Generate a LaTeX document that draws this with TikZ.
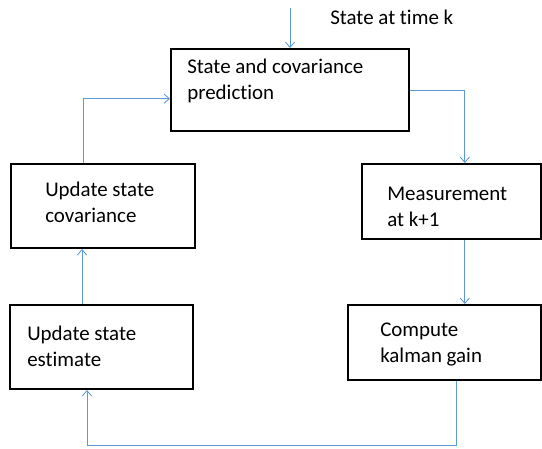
\documentclass[tikz,border=0pt]{standalone}
\usepackage{fontspec}
\setmainfont{Carlito}[Ligatures=NoCommon]
\usetikzlibrary{calc,positioning,arrows.meta}
\definecolor{kfblue}{RGB}{91,155,213}
\tikzset{
 kf box/.style={draw=black,line width=1.5pt,rectangle,inner sep=0pt},
 kf text/.style={font=\fontsize{15.7}{19.5}\selectfont,align=left,
                 anchor=base west,inner sep=0pt},
 kf flow/.style={draw=kfblue,line width=.65pt,
                 -{Straight Barb[length=4pt,width=7pt]}}
}

\begin{document}
\begin{tikzpicture}[x=.75pt,y=-.75pt]
 \useasboundingbox (0,0) rectangle (542,449);
 % boxes
 \node[kf box,minimum width=178.5pt,minimum height=61.5pt] (pred) at (290,90) {};
 \node[kf box,minimum width=134.25pt,minimum height=56.25pt] (meas) at (451.5,201.5) {};
 \node[kf box,minimum width=144.75pt,minimum height=56.25pt] (gain) at (444.5,342.5) {};
 \node[kf box,minimum width=137.25pt,minimum height=63pt] (est) at (101.5,347) {};
 \node[kf box,minimum width=138pt,minimum height=63pt] (cov) at (103,206) {};
 % texts (base = last line)
 \node[kf text] (predtxt) at (187,100) {State and covariance\\prediction};
 \node[kf text] (meastxt) at (387,226) {Measurement\\at k+1};
 \node[kf text] (gaintxt) at (380,362) {Compute\\kalman gain};
 \node[kf text] (esttxt) at (27,366) {Update state\\estimate};
 \node[kf text] (covtxt) at (45,222) {Update state\\covariance};
 \node[kf text] (intxt) at (330,25) {State at time k};
 % flow
 \coordinate (in) at (290,8);
 \coordinate (gainout) at ([xshift=8.6pt]gain.south);
 \coordinate (estin) at ([xshift=-10.9pt]est.south);
 \coordinate (low) at (0,445);
 \draw[kf flow] (in)--(pred.north);
 \draw[kf flow] (pred.east) -| ([xshift=10pt]meas.north);
 \draw[kf flow] ([xshift=10pt]meas.south)--([xshift=10pt]meas.south |- gain.north);
 \draw[kf flow] (gainout) |- (low -| estin) -- (estin);
 \draw[kf flow] ([xshift=-14.6pt]est.north)--([xshift=-14.6pt]est.north |- cov.south);
 \draw[kf flow] ([xshift=-15pt]cov.north) |- ([yshift=-6.5pt]pred.west);
\end{tikzpicture}
\end{document}
